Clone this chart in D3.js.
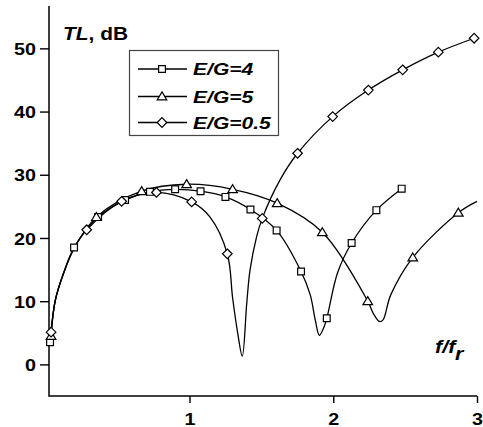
<!DOCTYPE html>
<html>
<head>
<meta charset="utf-8">
<title>TL vs f/fr</title>
<script src="https://d3js.org/d3.v7.min.js"></script>
<style>
  body { margin: 0; background: #fff; }
  svg { display: block; font-family: "Liberation Sans", Arial, sans-serif; }
</style>
</head>
<body>
<script>
// ---- data ----
var seriesNames = ["E/G=4", "E/G=5", "E/G=0.5"];

// marker points
var g4X  = [0.03, 0.197, 0.364, 0.552, 0.725, 0.90, 1.077, 1.25, 1.424, 1.606, 1.776, 1.955, 2.128, 2.30, 2.476];
var g4Y  = [3.5, 18.5, 23.3, 26.0, 27.3, 27.7, 27.4, 26.5, 24.5, 21.2, 14.7, 7.3, 19.2, 24.4, 27.8];
var g5X  = [0.037, 0.352, 0.667, 0.98, 1.30, 1.61, 1.924, 2.24, 2.553, 2.87];
var g5Y  = [4.5, 23.3, 27.4, 28.5, 27.7, 25.5, 20.9, 10.0, 16.9, 24.0];
var g05X = [0.037, 0.285, 0.528, 0.77, 1.015, 1.263, 1.506, 1.752, 1.996, 2.244, 2.483, 2.731, 2.98];
var g05Y = [5.1, 21.3, 25.8, 27.2, 25.7, 17.5, 23.1, 33.4, 39.2, 43.4, 46.6, 49.4, 51.6];

// curve points (markers plus extra points traced between them)
var g4LineX  = [0.03, 0.066, 0.122, 0.197, 0.364, 0.552, 0.725, 0.90, 1.077, 1.25, 1.424, 1.606, 1.776, 1.84, 1.875, 1.903, 1.93, 1.955, 2.03, 2.128, 2.30, 2.476];
var g4LineY  = [3.5, 10.1, 14.3, 18.5, 23.3, 26.0, 27.3, 27.7, 27.4, 26.5, 24.5, 21.2, 14.7, 11.0, 7.0, 4.6, 5.6, 7.3, 14.5, 19.2, 24.4, 27.8];
var g5LineX  = [0.037, 0.066, 0.122, 0.2, 0.352, 0.667, 0.98, 1.30, 1.61, 1.924, 2.24, 2.28, 2.32, 2.345, 2.40, 2.553, 2.87, 3.0];
var g5LineY  = [4.5, 10.1, 14.3, 18.5, 23.3, 27.4, 28.5, 27.7, 25.5, 20.9, 10.0, 8.0, 6.8, 7.0, 11.0, 16.9, 24.0, 25.8];
var g05LineX = [0.037, 0.066, 0.122, 0.2, 0.285, 0.528, 0.77, 1.015, 1.143, 1.263, 1.30, 1.335, 1.367, 1.398, 1.421, 1.467, 1.506, 1.63, 1.752, 1.996, 2.244, 2.483, 2.731, 2.98];
var g05LineY = [5.1, 10.1, 14.3, 18.5, 21.3, 25.8, 27.2, 25.7, 23.3, 17.5, 10.5, 5.0, 1.3, 9.6, 14.9, 20.2, 23.1, 29.2, 33.4, 39.2, 43.4, 46.6, 49.4, 51.6];

var xMajor = [1, 2, 3];
var xMinor = [0.5, 1.5, 2.5];
var yMajor = [0, 10, 20, 30, 40, 50];
var yMinor = [5, 15, 25, 35, 45, 55];

// ---- chart ----
var width = 483, height = 427;

var svg = d3.select("body").append("svg")
    .attr("width", width)
    .attr("height", height);

var x = d3.scaleLinear().domain([0.0226, 3]).range([49, 477]);
var y = d3.scaleLinear().domain([-5, 56.7]).range([396, 6]);

function zip(xs, ys) {
  return xs.map(function(v, i) { return [v, ys[i]]; });
}

// axes
var gy = svg.append("g").attr("transform", "translate(49,0)");
gy.call(d3.axisLeft(y).tickValues(yMinor).tickSize(5).tickFormat(""));
gy.call(d3.axisLeft(y).tickValues(yMajor).tickSize(9).tickFormat(d3.format("d")));
gy.select(".domain").remove();

var gx = svg.append("g").attr("transform", "translate(0,396)");
gx.call(d3.axisBottom(x).tickValues(xMinor).tickSize(5).tickFormat(""));
gx.call(d3.axisBottom(x).tickValues(xMajor).tickSize(7).tickFormat(d3.format("d")));
gx.select(".domain").remove();

svg.selectAll(".tick line").attr("stroke", "#000").attr("stroke-width", 1.4);
svg.selectAll(".tick text")
    .attr("font-size", 17)
    .attr("font-weight", "bold")
    .attr("fill", "#000")
    .attr("font-family", "Liberation Sans, Arial, sans-serif");

gy.selectAll(".tick text")
    .attr("x", 0).attr("dy", "0.36em")
    .attr("transform", "translate(-13,0) scale(1.16,1)");
gx.selectAll(".tick text")
    .attr("y", 0).attr("dy", 0)
    .attr("transform", "translate(0,28.5) scale(1.16,1)");

svg.append("path")
    .attr("d", "M49,6V396H477")
    .attr("fill", "none")
    .attr("stroke", "#000")
    .attr("stroke-width", 1.5);

// axis titles
var tl = svg.append("text")
    .attr("transform", "translate(63,40) scale(1.1,1)")
    .attr("font-size", 19)
    .attr("font-weight", "bold");
tl.append("tspan").attr("font-style", "italic").text("TL");
tl.append("tspan").text(", dB");

svg.append("text")
    .attr("transform", "translate(435,353) scale(1.2,1)")
    .attr("font-size", 18)
    .attr("font-weight", "bold")
    .attr("font-style", "italic")
    .text("f/f");
svg.append("text")
    .attr("transform", "translate(455,360) scale(1.2,1)")
    .attr("font-size", 18)
    .attr("font-weight", "bold")
    .attr("font-style", "italic")
    .text("r");

// marker shapes
function square(cx, cy) {
  var s = 3.4;
  return "M" + (cx - s) + "," + (cy - s) + "h" + 2 * s + "v" + 2 * s + "h" + (-2 * s) + "Z";
}
function triangle(cx, cy) {
  return "M" + cx + "," + (cy - 4.6) + "L" + (cx + 4.8) + "," + (cy + 3.4) + "L" + (cx - 4.8) + "," + (cy + 3.4) + "Z";
}
function diamond(cx, cy) {
  var r = 4.8;
  return "M" + cx + "," + (cy - r) + "L" + (cx + r) + "," + cy + "L" + cx + "," + (cy + r) + "L" + (cx - r) + "," + cy + "Z";
}

var series = [
  { name: seriesNames[0], line: zip(g4LineX, g4LineY), pts: zip(g4X, g4Y), shape: square },
  { name: seriesNames[1], line: zip(g5LineX, g5LineY), pts: zip(g5X, g5Y), shape: triangle },
  { name: seriesNames[2], line: zip(g05LineX, g05LineY), pts: zip(g05X, g05Y), shape: diamond }
];

var line = d3.line()
    .x(function(d) { return x(d[0]); })
    .y(function(d) { return y(d[1]); })
    .curve(d3.curveCatmullRom.alpha(0.5));

series.forEach(function(s) {
  svg.append("path")
      .attr("d", line(s.line))
      .attr("fill", "none")
      .attr("stroke", "#000")
      .attr("stroke-width", 1.3);
});

series.forEach(function(s) {
  svg.selectAll(null)
      .data(s.pts)
      .enter()
      .append("path")
      .attr("d", function(d) { return s.shape(x(d[0]), y(d[1])); })
      .attr("fill", "#fff")
      .attr("stroke", "#000")
      .attr("stroke-width", 1.2);
});

// legend
svg.append("rect")
    .attr("x", 129.5).attr("y", 50.5)
    .attr("width", 149).attr("height", 85)
    .attr("fill", "#fff")
    .attr("stroke", "#444")
    .attr("stroke-width", 1.2);

var rowsY = [69, 96.5, 122.5];
series.forEach(function(s, i) {
  var ry = rowsY[i];
  svg.append("line")
      .attr("x1", 138).attr("x2", 187)
      .attr("y1", ry).attr("y2", ry)
      .attr("stroke", "#000").attr("stroke-width", 1.3);
  svg.append("path")
      .attr("d", s.shape(162, ry))
      .attr("fill", "#fff").attr("stroke", "#000").attr("stroke-width", 1.2);
  svg.append("text")
      .attr("transform", "translate(193," + (ry + 6) + ") scale(1.24,1)")
      .attr("font-size", 17)
      .attr("font-weight", "bold")
      .attr("font-style", "italic")
      .text(s.name);
});
</script>
</body>
</html>
